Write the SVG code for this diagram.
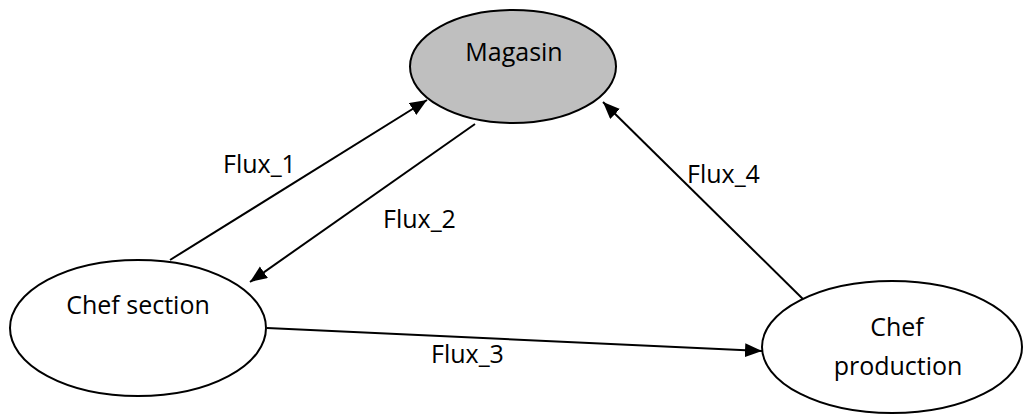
<svg xmlns="http://www.w3.org/2000/svg" width="1024" height="414" viewBox="0 0 1024 414">
  <style>
    .node { stroke: #000; stroke-width: 2; }
    .plain { fill: #fff; }
    .store { fill: #bfbfbf; }
    .label { font-family: "Open Sans", "Liberation Sans", sans-serif; font-size: 25px; fill: #000; }
    .flow { stroke: #000; stroke-width: 2; fill: none; marker-end: url(#head); }
  </style>
  <defs>
    <marker id="head" markerUnits="userSpaceOnUse" markerWidth="18" markerHeight="15" refX="17" refY="7" orient="auto">
      <path d="M0,0 L17,7 L0,14 Z" fill="#000"/>
    </marker>
  </defs>
  <rect width="1024" height="414" fill="#fff"/>

  <!-- connectors -->
  <g id="connectors">
    <line class="flow" x1="170" y1="260" x2="427" y2="100"/>
    <line class="flow" x1="475" y1="124" x2="250" y2="282"/>
    <line class="flow" x1="267" y1="328" x2="762" y2="351"/>
    <line class="flow" x1="810" y1="306" x2="603" y2="102"/>
    <text class="label" x="223" y="173">Flux_1</text>
    <text class="label" x="383" y="228">Flux_2</text>
    <text class="label" x="431" y="363">Flux_3</text>
    <text class="label" x="687" y="183">Flux_4</text>
  </g>

  <!-- nodes -->
  <g id="magasin">
    <ellipse class="node store" cx="513" cy="66.5" rx="103" ry="56.5"/>
    <text class="label" x="514" y="61" text-anchor="middle">Magasin</text>
  </g>
  <g id="chef-section">
    <ellipse class="node plain" cx="138" cy="328" rx="128" ry="68"/>
    <text class="label" x="138" y="314" text-anchor="middle">Chef section</text>
  </g>
  <g id="chef-production">
    <ellipse class="node plain" cx="892" cy="347" rx="130" ry="66"/>
    <text class="label" x="897" y="336" text-anchor="middle">Chef</text>
    <text class="label" x="898" y="375" text-anchor="middle">production</text>
  </g>
</svg>
